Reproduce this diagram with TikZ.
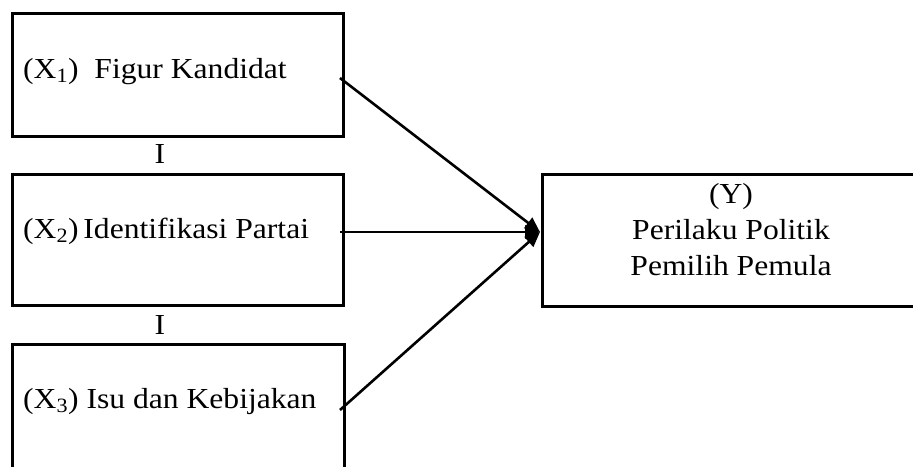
\documentclass[tikz,border=0pt]{standalone}
\usepackage{fontspec}
\setmainfont{Liberation Serif}[FakeStretch=1.09]
\usetikzlibrary{arrows.meta}
\begin{document}
\begin{tikzpicture}[x=1pt,y=-1pt,
  box/.style={draw,line width=3pt,inner sep=0pt,anchor=north west},
  lbl/.style={font=\fontsize{29}{36}\selectfont,inner sep=0pt},
  conn/.style={line width=2.6pt,-{Triangle[length=15pt,width=13pt]}}]
\useasboundingbox (0,0) rectangle (913,466);
\clip (0,0) rectangle (913,466);
% boxes
\node[box,minimum width=331pt,minimum height=123pt] (b1) at (11,12) {};
\node[box,minimum width=331pt,minimum height=131pt] (b2) at (11,173) {};
\node[box,minimum width=332pt,minimum height=200pt] (b3) at (11,343) {};
\node[box,minimum width=420pt,minimum height=132pt] (by) at (541,173) {};
% texts
\node[lbl,anchor=base west] (t1) at (23,78) {(X\textsubscript{1})\ \ Figur Kandidat};
\node[lbl,anchor=base west] (t2) at (23,238) {(X\textsubscript{2})\,Identifikasi Partai};
\node[lbl,anchor=base west] (t3) at (23,408) {(X\textsubscript{3}) Isu dan Kebijakan};
\node[lbl,anchor=base] (i1) at (160,163) {I};
\node[lbl,anchor=base] (i2) at (160,334) {I};
\node[lbl,anchor=base] (ty1) at (731,203) {(Y)};
\node[lbl,anchor=base] (ty2) at (731,239) {Perilaku Politik};
\node[lbl,anchor=base] (ty3) at (731,275) {Pemilih Pemula};
% connector ends
\coordinate (s1) at (340,78);
\coordinate (s2) at (340,232);
\coordinate (s3) at (340,410);
\coordinate (tip) at (540,232);
\draw[conn] (s1) -- (tip);
\draw[conn] (s2) -- (tip);
\draw[conn] (s3) -- (tip);
\end{tikzpicture}
\end{document}
